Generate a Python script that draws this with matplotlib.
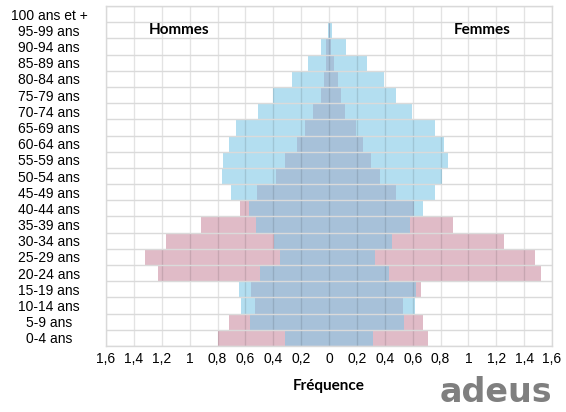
import matplotlib
matplotlib.use("Agg")
import matplotlib.pyplot as plt
import numpy as np

age_groups = ["0-4 ans", "5-9 ans", "10-14 ans", "15-19 ans", "20-24 ans", "25-29 ans",
              "30-34 ans", "35-39 ans", "40-44 ans", "45-49 ans", "50-54 ans", "55-59 ans",
              "60-64 ans", "65-69 ans", "70-74 ans", "75-79 ans", "80-84 ans", "85-89 ans",
              "90-94 ans", "95-99 ans", "100 ans et +"]

# Population A (pink) and population B (light blue), frequency in %
hommes_a = [0.799, 0.718, 0.534, 0.561, 1.229, 1.320, 1.172, 0.919, 0.635, 0.516, 0.380,
            0.315, 0.229, 0.169, 0.112, 0.059, 0.036, 0.019, 0.019, 0.003, 0.0]
hommes_b = [0.315, 0.566, 0.630, 0.649, 0.494, 0.351, 0.394, 0.523, 0.573, 0.704, 0.771,
            0.764, 0.721, 0.668, 0.506, 0.401, 0.269, 0.150, 0.054, 0.008, 0.0]
femmes_a = [0.709, 0.671, 0.528, 0.657, 1.521, 1.481, 1.254, 0.888, 0.612, 0.480, 0.363,
            0.304, 0.246, 0.196, 0.115, 0.086, 0.067, 0.036, 0.017, 0.005, 0.0]
femmes_b = [0.318, 0.537, 0.614, 0.623, 0.428, 0.330, 0.449, 0.580, 0.673, 0.759, 0.814,
            0.857, 0.822, 0.759, 0.592, 0.478, 0.392, 0.272, 0.125, 0.025, 0.0]

xticks = [-1.6, -1.4, -1.2, -1.0, -0.8, -0.6, -0.4, -0.2, 0, 0.2, 0.4, 0.6, 0.8, 1.0, 1.2, 1.4, 1.6]
xtick_labels = ["1,6", "1,4", "1,2", "1", "0,8", "0,6", "0,4", "0,2", "0",
                "0,2", "0,4", "0,6", "0,8", "1", "1,2", "1,4", "1,6"]

PINK = "#E0BBC7"
LBLUE = "#B3DEF0"
DBLUE = "#A7C1D9"

fig = plt.figure(figsize=(5.66, 4.12), dpi=100)
ax = fig.add_axes([106/566, 1 - 346/412, (552-106)/566, (346-6)/412])

y = np.arange(len(age_groups))
ha_ = np.array(hommes_a); hb_ = np.array(hommes_b)
fa_ = np.array(femmes_a); fb_ = np.array(femmes_b)

h = 1.0
ax.barh(y, -ha_, height=h, color=PINK, zorder=2)
ax.barh(y, -hb_, height=h, color=LBLUE, zorder=3)
ax.barh(y, -np.minimum(ha_, hb_), height=h, color=DBLUE, zorder=4)
ax.barh(y, fa_, height=h, color=PINK, zorder=2)
ax.barh(y, fb_, height=h, color=LBLUE, zorder=3)
ax.barh(y, np.minimum(fa_, fb_), height=h, color=DBLUE, zorder=4)

ax.set_xlim(-1.6, 1.6)
ax.set_ylim(-0.5, len(age_groups) - 0.5)

# grid lines (drawn on top, semi-transparent)
for xv in xticks:
    ax.axvline(xv, color="black", alpha=0.11, lw=1.0, zorder=5)
for yv in np.arange(-0.5, len(age_groups), 1.0):
    ax.axhline(yv, color="#DADADA", lw=1.0, zorder=5)

ax.set_xticks(xticks)
ax.set_xticklabels(xtick_labels, fontsize=10, family="Liberation Sans")
ax.set_yticks(y)
ax.set_yticklabels(age_groups, fontsize=10, family="Liberation Sans", ha="center")
ax.tick_params(axis="y", length=0, pad=41)
ax.tick_params(axis="x", length=0, pad=4)

for s in ax.spines.values():
    s.set_color("#D9D9D9")
    s.set_linewidth(1.0)
    s.set_zorder(6)

ax.text(-1.077, 19, "Hommes", fontsize=11, fontweight="bold", family="Lato",
        ha="center", va="center", zorder=7)
ax.text(1.10, 19, "Femmes", fontsize=11, fontweight="bold", family="Lato",
        ha="center", va="center", zorder=7)

ax.set_xlabel("Fréquence", fontsize=11, fontweight="bold", family="Lato", labelpad=10)

fig.text(496/566, 1 - 392/412, "adeus", fontsize=24, fontweight="bold",
         family="DejaVu Sans", color="#7F7F7F", ha="center", va="center")

fig.savefig("out.png", dpi=100)
